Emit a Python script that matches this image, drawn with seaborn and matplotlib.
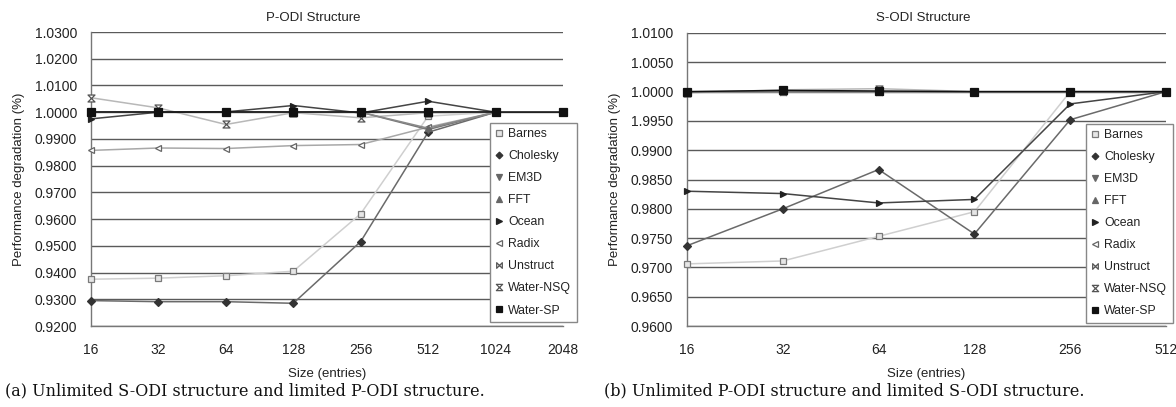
import numpy as np
import pandas as pd
import matplotlib
matplotlib.use("Agg")
import matplotlib.pyplot as plt
from matplotlib.path import Path
from matplotlib.lines import Line2D
from matplotlib.ticker import FixedLocator, FixedFormatter
import seaborn as sns

sns.set_style("white")
plt.rcParams['font.family'] = ['Liberation Sans', 'DejaVu Sans']

series_names = ["Barnes", "Cholesky", "EM3D", "FFT", "Ocean", "Radix",
                "Unstruct", "Water-NSQ", "Water-SP"]

# ---- (a) P-ODI structure ----
sizes_a = [16, 32, 64, 128, 256, 512, 1024, 2048]
a_barnes = [0.9375, 0.9379, 0.9388, 0.9405, 0.9620, 0.9985, 1.0000]
a_cholesky = [0.9295, 0.9291, 0.9291, 0.9285, 0.9516, 0.9925, 1.0000]
a_em3d = [1.0000, 1.0000, 1.0000, 1.0000, 1.0000, 0.9935, 1.0000]
a_fft = [1.0000, 1.0000, 1.0000, 1.0000, 1.0000, 0.9940, 1.0000]
a_ocean = [0.9975, 1.0000, 1.0001, 1.0025, 0.9997, 1.0041, 1.0000]
a_radix = [0.9857, 0.9866, 0.9864, 0.9875, 0.9879, 0.9944, 1.0000]
a_unstruct = [1.0000, 1.0000, 1.0000, 1.0000, 1.0000, 1.0000, 1.0000]
a_water_nsq = [1.0054, 1.0016, 0.9954, 0.9998, 0.9979, 0.9998, 1.0000]
a_water_sp = [1.0000, 1.0000, 1.0000, 1.0000, 1.0000, 1.0000, 1.0000, 1.0000]
a_yticks = [0.92, 0.93, 0.94, 0.95, 0.96, 0.97, 0.98, 0.99, 1.00, 1.01, 1.02, 1.03]
a_yticklabels = ["0.9200", "0.9300", "0.9400", "0.9500", "0.9600", "0.9700",
                 "0.9800", "0.9900", "1.0000", "1.0100", "1.0200", "1.0300"]

# ---- (b) S-ODI structure ----
sizes_b = [16, 32, 64, 128, 256, 512]
b_barnes = [0.9706, 0.9711, 0.9753, 0.9795, 1.0000, 1.0000]
b_cholesky = [0.9737, 0.9800, 0.9867, 0.9757, 0.9952, 1.0000]
b_em3d = [1.0000, 1.0000, 1.0000, 1.0000, 1.0000, 1.0000]
b_fft = [1.0000, 1.0000, 1.0000, 1.0000, 1.0000, 1.0000]
b_ocean = [0.9830, 0.9826, 0.9810, 0.9816, 0.9979, 1.0000]
b_radix = [1.0000, 1.0000, 1.0000, 1.0000, 1.0000, 1.0000]
b_unstruct = [1.0000, 1.0000, 1.0000, 1.0000, 1.0000, 1.0000]
b_water_nsq = [0.9998, 1.0003, 1.0005, 1.0000, 1.0000, 1.0000]
b_water_sp = [1.0000, 1.0002, 1.0001, 1.0000, 1.0000, 1.0000]
b_yticks = [0.960, 0.965, 0.970, 0.975, 0.980, 0.985, 0.990, 0.995, 1.000, 1.005, 1.010]
b_yticklabels = ["0.9600", "0.9650", "0.9700", "0.9750", "0.9800", "0.9850",
                 "0.9900", "1.9950", "1.0000", "1.0050", "1.0100"]

titles = ["P-ODI Structure", "S-ODI Structure"]
captions = ["(a) Unlimited S-ODI structure and limited P-ODI structure.",
            "(b) Unlimited P-ODI structure and limited S-ODI structure."]

# custom markers
bowtie = Path([(-1, -1), (0, 0), (-1, 1), (-1, -1), (1, -1), (0, 0), (1, 1), (1, -1)],
              [Path.MOVETO, Path.LINETO, Path.LINETO, Path.CLOSEPOLY,
               Path.MOVETO, Path.LINETO, Path.LINETO, Path.CLOSEPOLY])
hourglass = Path([(-1, 1), (1, 1), (0, 0), (-1, 1), (-1, -1), (1, -1), (0, 0), (-1, -1)],
                 [Path.MOVETO, Path.LINETO, Path.LINETO, Path.CLOSEPOLY,
                  Path.MOVETO, Path.LINETO, Path.LINETO, Path.CLOSEPOLY])

styles = {
    "Barnes":    dict(line="#cfcfcf", marker="s", mfc="#e6e6e6", mec="#7a7a7a", ms=5),
    "Cholesky":  dict(line="#6a6a6a", marker="D", mfc="#333333", mec="#333333", ms=3.8),
    "EM3D":      dict(line="#777777", marker="v", mfc="#666666", mec="#666666", ms=4.5),
    "FFT":       dict(line="#888888", marker="^", mfc="#666666", mec="#666666", ms=4.5),
    "Ocean":     dict(line="#444444", marker=">", mfc="#222222", mec="#222222", ms=5),
    "Radix":     dict(line="#a8a8a8", marker="<", mfc="white", mec="#666666", ms=5),
    "Unstruct":  dict(line="#888888", marker=bowtie, mfc="white", mec="#555555", ms=4.5),
    "Water-NSQ": dict(line="#b8b8b8", marker=hourglass, mfc="white", mec="#555555", ms=5),
    "Water-SP":  dict(line="#111111", marker="s", mfc="#111111", mec="#111111", ms=5.2),
}

data_a = [a_barnes, a_cholesky, a_em3d, a_fft, a_ocean, a_radix, a_unstruct, a_water_nsq, a_water_sp]
data_b = [b_barnes, b_cholesky, b_em3d, b_fft, b_ocean, b_radix, b_unstruct, b_water_nsq, b_water_sp]

W, H = 1176, 407
fig = plt.figure(figsize=(W / 100, H / 100), dpi=100)
ax_a = fig.add_axes([91 / W, 1 - 326 / H, 472 / W, 294 / H])
ax_b = fig.add_axes([687 / W, 1 - 326 / H, 479 / W, 293 / H])

panels = [
    (ax_a, sizes_a, data_a, a_yticks, a_yticklabels, titles[0], (0.92, 1.03), 313 / W),
    (ax_b, sizes_b, data_b, b_yticks, b_yticklabels, titles[1], (0.96, 1.01), 923 / W),
]

draw_order = ["Barnes", "Cholesky", "Radix", "Water-NSQ", "EM3D", "FFT", "Unstruct", "Ocean", "Water-SP"]

for ax, sizes, data, yt, ytl, title, ylim, tx in panels:
    ax.set_xscale("log", base=2)
    for yv in yt:
        ax.axhline(yv, color="#5a5a5a", lw=1.0, zorder=1)
    for name in draw_order:
        vals = data[series_names.index(name)]
        st = styles[name]
        df = pd.DataFrame({"size": sizes[:len(vals)], "value": vals})
        sns.lineplot(data=df, x="size", y="value", ax=ax, color=st["line"], lw=1.1,
                     marker=st["marker"], markersize=st["ms"], markerfacecolor=st["mfc"],
                     markeredgecolor=st["mec"], markeredgewidth=0.9, sort=False,
                     legend=False, clip_on=False, zorder=3)
    ax.set_xlim(sizes[0], sizes[-1])
    ax.set_ylim(*ylim)
    ax.xaxis.set_major_locator(FixedLocator(sizes))
    ax.xaxis.set_major_formatter(FixedFormatter([str(s) for s in sizes]))
    ax.xaxis.set_minor_locator(FixedLocator([]))
    ax.yaxis.set_major_locator(FixedLocator(yt))
    ax.yaxis.set_major_formatter(FixedFormatter(ytl))
    ax.tick_params(axis="x", direction="out", length=5, width=1, color="#777777",
                   labelsize=10, pad=7, labelcolor="#222222")
    ax.tick_params(axis="y", direction="out", length=5, width=1, color="#777777",
                   labelsize=10, pad=5, labelcolor="#222222")
    for sp in ["top", "right"]:
        ax.spines[sp].set_visible(False)
    for sp in ["left", "bottom"]:
        ax.spines[sp].set_color("#777777")
        ax.spines[sp].set_linewidth(1.0)
    ax.set_xlabel("Size (entries)", fontsize=9.5, labelpad=8, color="#222222")
    ax.set_ylabel("Performance degradation (%)", fontsize=9.5, color="#222222")
    fig.text(tx, 1 - 18 / H, title, ha="center", va="center", fontsize=9.5, color="#222222")

ax_a.yaxis.set_label_coords(-66 / 472, 0.5)
ax_b.yaxis.set_label_coords(-66 / 479, 0.5)

# legends
handles = []
for name in series_names:
    st = styles[name]
    handles.append(Line2D([], [], linestyle="none", marker=st["marker"], markersize=st["ms"] * 0.9,
                          markerfacecolor=st["mfc"], markeredgecolor=st["mec"], markeredgewidth=0.9))

for x0, y0 in [(490 / W, 1 - 322 / H), (1086 / W, 1 - 323 / H)]:
    leg = fig.legend(handles, series_names, loc="lower left", bbox_to_anchor=(x0, y0),
                     bbox_transform=fig.transFigure, fontsize=8.8, frameon=True, fancybox=False,
                     edgecolor="#888888", framealpha=1, handlelength=0.6, handletextpad=0.45,
                     labelspacing=0.82, borderpad=0.45, borderaxespad=0)
    leg.get_frame().set_linewidth(1.0)
    for t in leg.get_texts():
        t.set_color("#222222")

for cx, cap in zip([5 / W, 604 / W], captions):
    fig.text(cx, 1 - 391 / H, cap, ha="left", va="center", fontsize=11.5,
             family=["DejaVu Serif"], color="#111111")

fig.savefig("out.png", dpi=100)
